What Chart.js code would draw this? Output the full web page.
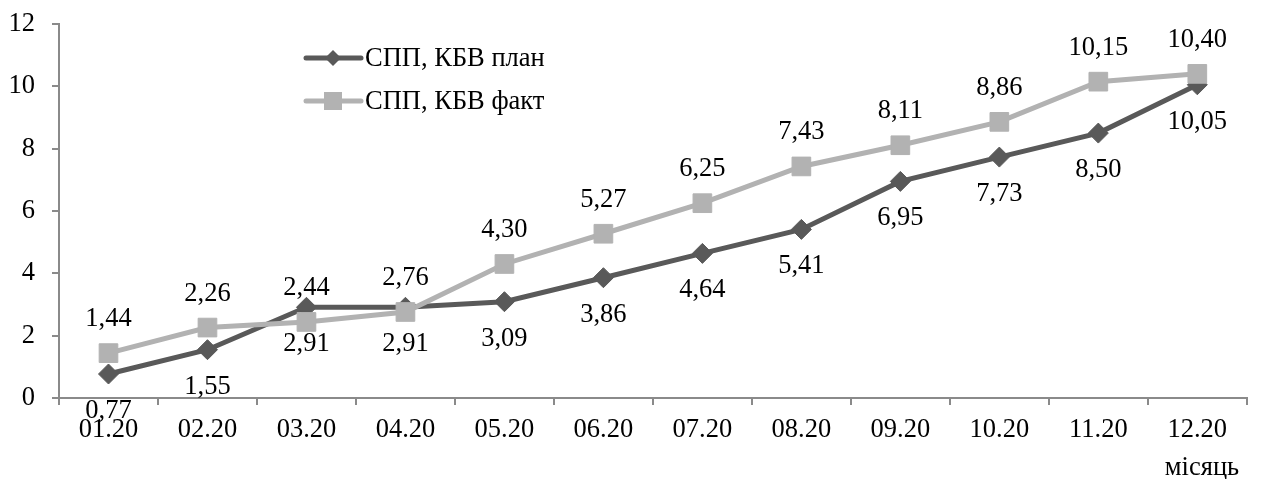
<!DOCTYPE html>
<html>
<head>
<meta charset="utf-8">
<script src="https://cdn.jsdelivr.net/npm/chart.js@4/dist/chart.umd.min.js"></script>
<style>
  html, body { margin: 0; padding: 0; background: #fff; }
  #wrap { width: 1261px; height: 479px; }
</style>
</head>
<body>
<div id="wrap"><canvas id="chart" width="1261" height="479"></canvas></div>
<script>
// --- data ---
const months = ['01.20', '02.20', '03.20', '04.20', '05.20', '06.20',
                '07.20', '08.20', '09.20', '10.20', '11.20', '12.20'];
const planValues = [0.77, 1.55, 2.91, 2.91, 3.09, 3.86, 4.64, 5.41, 6.95, 7.73, 8.50, 10.05];
const factValues = [1.44, 2.26, 2.44, 2.76, 4.30, 5.27, 6.25, 7.43, 8.11, 8.86, 10.15, 10.40];
const seriesNames = ['СПП, КБВ план', 'СПП, КБВ факт'];
const yTicks = [0, 2, 4, 6, 8, 10, 12];
const xAxisTitle = 'місяць';

const FONT = '"Liberation Serif", "Times New Roman", serif';
const FS = 26.5;
const DARK = '#595959';
const LIGHT = '#b2b2b2';
const AXIS = '#8a8a8a';

const fmt = v => v.toFixed(2).replace('.', ',');

// value labels: plan under the point, fact over it
const valueLabels = {
    id: 'valueLabels',
    afterDatasetsDraw(chart) {
        const ctx = chart.ctx;
        ctx.save();
        ctx.font = FS + 'px ' + FONT;
        ctx.fillStyle = '#000';
        ctx.textAlign = 'center';
        ctx.textBaseline = 'middle';
        chart.data.datasets.forEach((ds, i) => {
            const meta = chart.getDatasetMeta(i);
            const shift = ds.labelShift;
            meta.data.forEach((pt, j) => {
                ctx.fillText(fmt(ds.data[j]), pt.x, pt.y + shift);
            });
        });
        ctx.restore();
    }
};

// legend (line + marker + text) and the axis caption
const extras = {
    id: 'extras',
    afterDraw(chart) {
        const ctx = chart.ctx;
        ctx.save();
        const rows = [58, 101];
        chart.data.datasets.forEach((ds, i) => {
            const y = rows[i];
            ctx.strokeStyle = ds.borderColor;
            ctx.fillStyle = ds.borderColor;
            ctx.lineWidth = 5;
            ctx.lineCap = 'round';
            ctx.beginPath();
            ctx.moveTo(306, y);
            ctx.lineTo(361, y);
            ctx.stroke();
            ctx.beginPath();
            if (ds.pointStyle === 'rectRot') {
                ctx.moveTo(333 - 8, y);
                ctx.lineTo(333, y - 8);
                ctx.lineTo(333 + 8, y);
                ctx.lineTo(333, y + 8);
                ctx.closePath();
            } else {
                ctx.rect(333 - 9, y - 9, 18, 18);
            }
            ctx.fill();
            ctx.font = FS + 'px ' + FONT;
            ctx.fillStyle = '#000';
            ctx.textAlign = 'left';
            ctx.textBaseline = 'middle';
            ctx.fillText(ds.label, 365, y + 1);
        });
        ctx.font = FS + 'px ' + FONT;
        ctx.fillStyle = '#000';
        ctx.textAlign = 'center';
        ctx.textBaseline = 'middle';
        ctx.fillText(xAxisTitle, 1202, 468);
        ctx.restore();
    }
};

new Chart(document.getElementById('chart'), {
    type: 'line',
    data: {
        labels: months,
        datasets: [
            {
                label: seriesNames[0],
                data: planValues,
                borderColor: DARK,
                backgroundColor: DARK,
                borderWidth: 5,
                pointStyle: 'rectRot',
                pointRadius: 10,
                pointBorderWidth: 1,
                pointBackgroundColor: DARK,
                pointBorderColor: DARK,
                tension: 0,
                order: 1,
                labelShift: 37
            },
            {
                label: seriesNames[1],
                data: factValues,
                borderColor: LIGHT,
                backgroundColor: LIGHT,
                borderWidth: 5,
                pointStyle: 'rect',
                pointRadius: 13.2,
                pointBorderWidth: 1,
                pointBackgroundColor: LIGHT,
                pointBorderColor: LIGHT,
                tension: 0,
                order: 0,
                labelShift: -34
            }
        ]
    },
    options: {
        responsive: false,
        animation: false,
        devicePixelRatio: 1,
        layout: { padding: { top: 24, right: 0, left: 0, bottom: 0 } },
        plugins: {
            legend: { display: false },
            tooltip: { enabled: false }
        },
        scales: {
            x: {
                offset: true,
                grid: {
                    offset: true,
                    drawOnChartArea: false,
                    tickLength: 7,
                    color: AXIS,
                    lineWidth: 2
                },
                border: { display: true, color: AXIS, width: 2 },
                ticks: {
                    color: '#000',
                    font: { family: FONT, size: FS },
                    padding: 9,
                    maxRotation: 0,
                    autoSkip: false
                },
                afterFit(scale) { scale.height = 81; }
            },
            y: {
                min: 0,
                max: 12,
                afterBuildTicks(scale) { scale.ticks = yTicks.map(v => ({ value: v })); },
                grid: {
                    drawOnChartArea: false,
                    tickLength: 7,
                    color: AXIS,
                    lineWidth: 2
                },
                border: { display: true, color: AXIS, width: 2 },
                ticks: {
                    color: '#000',
                    font: { family: FONT, size: FS },
                    padding: 17
                },
                afterFit(scale) {
                    scale.width = 59;
                    scale.paddingTop = 0;
                    scale.paddingBottom = 0;
                }
            }
        }
    },
    plugins: [valueLabels, extras]
});
</script>
</body>
</html>
